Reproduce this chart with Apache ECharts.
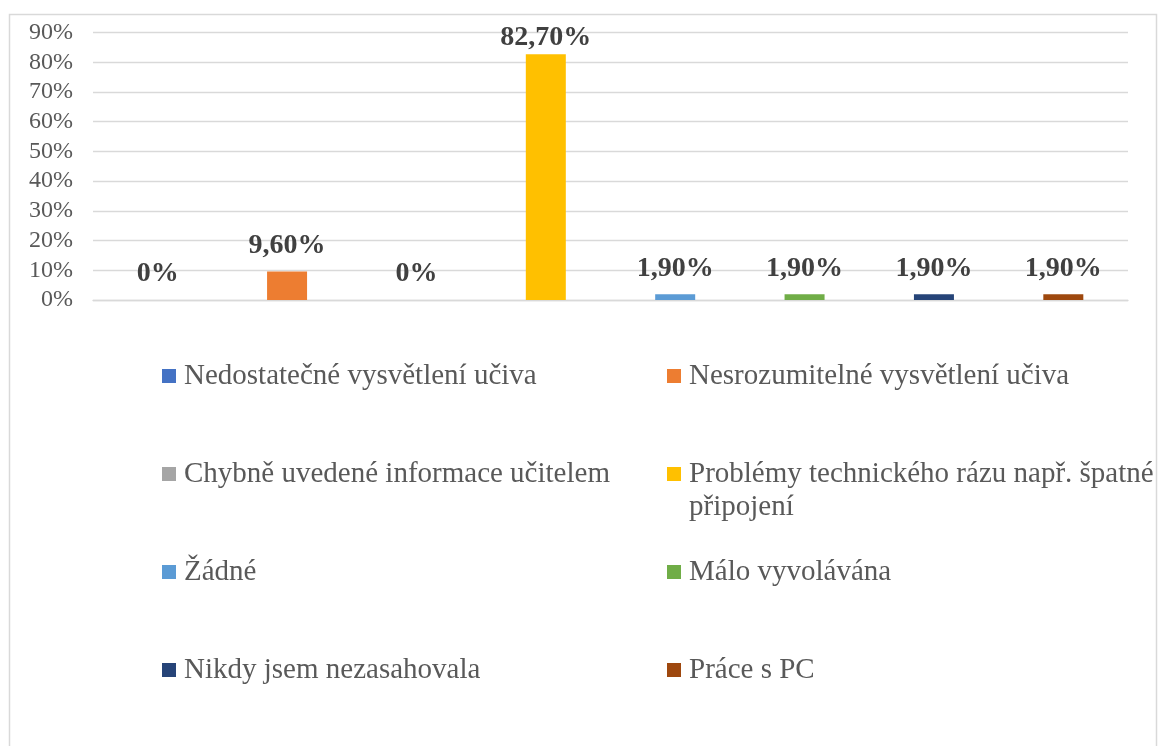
<!DOCTYPE html>
<html>
<head>
<meta charset="utf-8">
<script src="https://cdn.jsdelivr.net/npm/echarts@6/dist/echarts.min.js"></script>
<style>
html,body{margin:0;padding:0;background:#fff;}
#chart{width:1159px;height:746px;}
</style>
</head>
<body>
<div id="chart"></div>
<script>
// ---- data ----
const seriesNames = [
  'Nedostatečné vysvětlení učiva',
  'Nesrozumitelné vysvětlení učiva',
  'Chybně uvedené informace učitelem',
  'Problémy technického rázu např. špatné připojení',
  'Žádné',
  'Málo vyvolávána',
  'Nikdy jsem nezasahovala',
  'Práce s PC'
];
const values = [0, 9.6, 0, 82.7, 1.9, 1.9, 1.9, 1.9];
const colors = ['#4472C4', '#ED7D31', '#A5A5A5', '#FFC000', '#5B9BD5', '#70AD47', '#264478', '#9E480E'];
const yTicks = [0, 10, 20, 30, 40, 50, 60, 70, 80, 90];

const serif = '"Liberation Serif", "Times New Roman", serif';

function fmtLabel(v) {
  return v === 0 ? '0%' : v.toFixed(2).replace('.', ',') + '%';
}

const series = seriesNames.map((name, i) => ({
  name: name,
  type: 'bar',
  stack: 'all',
  barWidth: 40,
  itemStyle: { color: colors[i] },
  label: {
    show: true,
    position: 'top',
    distance: values[i] > 80 ? 2 : 12,
    fontFamily: serif,
    fontSize: 28,
    fontWeight: 'bold',
    color: '#404040',
    formatter: p => fmtLabel(p.value)
  },
  data: seriesNames.map((_, j) => j === i ? values[i] : '-')
}));

// legend placement: 2 columns x 4 rows
const colX = [162, 667];
const rowY = [376, 474, 572, 670];
const LH = 33;
const legends = seriesNames.map((name, i) => {
  const col = i % 2, row = Math.floor(i / 2);
  const wrapped = name.startsWith('Problémy');
  return {
    data: [name],
    left: colX[col],
    top: wrapped ? rowY[row] - (LH * 3) / 2 : rowY[row] - LH / 2,
    padding: 0,
    itemWidth: 14,
    itemHeight: 14,
    icon: 'rect',
    selectedMode: false,
    formatter: wrapped ? () => '\nProblémy technického rázu např. špatné\npřipojení' : '{name}',
    textStyle: {
      fontFamily: serif,
      fontSize: 29,
      color: '#595959',
      lineHeight: LH,
      padding: [0, 0, 0, 3]
    }
  };
});

const chart = echarts.init(document.getElementById('chart'));
chart.setOption({
  animation: false,
  backgroundColor: '#fff',
  grid: { left: 93, right: 31, top: 32.5, bottom: 446, containLabel: false },
  xAxis: {
    type: 'category',
    data: seriesNames,
    axisLabel: { show: false },
    axisTick: { show: false },
    axisLine: { show: true, lineStyle: { color: '#d9d9d9', width: 1.3 } }
  },
  yAxis: {
    type: 'value',
    min: yTicks[0],
    max: yTicks[yTicks.length - 1],
    interval: 10,
    axisLine: { show: false },
    axisTick: { show: false },
    splitLine: { lineStyle: { color: '#d9d9d9', width: 1.3 } },
    axisLabel: {
      fontFamily: serif,
      fontSize: 24,
      color: '#595959',
      margin: 20,
      formatter: v => v + '%'
    }
  },
  legend: legends,
  graphic: [{
    type: 'rect',
    shape: { x: 9.5, y: 14.5, width: 1147, height: 760 },
    style: { fill: 'none', stroke: '#d9d9d9', lineWidth: 1.5 },
    silent: true,
    z: -1
  }],
  series: series
});
</script>
</body>
</html>
